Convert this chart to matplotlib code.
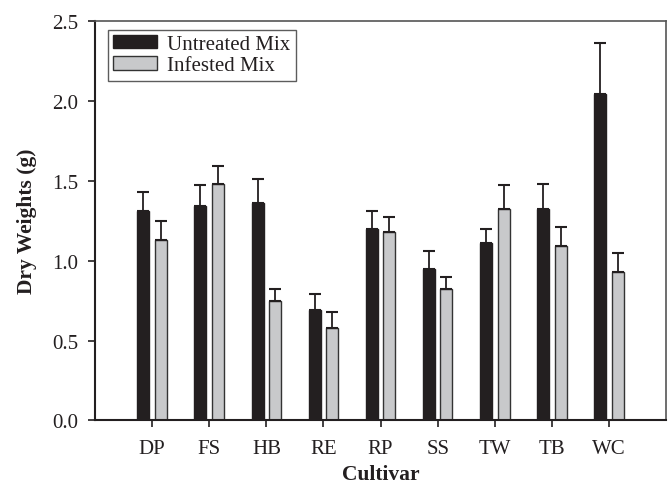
"""
Dry weights by cultivar, untreated vs infested mix, with SE bars.
"""

import matplotlib

matplotlib.use("Agg")
import matplotlib.pyplot as plt
import numpy as np

cultivars = ["DP", "FS", "HB", "RE", "RP", "SS", "TW", "TB", "WC"]
untreated = [1.31, 1.34, 1.36, 0.69, 1.20, 0.95, 1.11, 1.32, 2.04]
untreated_err = [0.12, 0.13, 0.15, 0.10, 0.11, 0.11, 0.09, 0.16, 0.32]
infested = [1.13, 1.48, 0.75, 0.58, 1.18, 0.82, 1.32, 1.09, 0.93]
infested_err = [0.12, 0.11, 0.075, 0.10, 0.09, 0.08, 0.15, 0.12, 0.12]

plt.rcParams["font.family"] = ["Liberation Serif", "DejaVu Serif"]

fig = plt.figure(figsize=(6.7, 4.85), dpi=100)
ax = fig.add_axes([0.142, 0.131, 0.852, 0.824])

x = np.arange(len(cultivars))
width = 0.21
offset = 0.155
dark = "#231f20"
grey = "#c8c9cb"

ax.bar(x - offset, untreated, width, color=dark, edgecolor=dark, linewidth=1.0,
       label="Untreated Mix", zorder=2)
ax.bar(x + offset, infested, width, color=grey, edgecolor="#333333", linewidth=1.0,
       label="Infested Mix", zorder=2)

err_style = dict(fmt="none", ecolor=dark, elinewidth=1.3, capsize=4.5, capthick=1.5, zorder=3)
ax.errorbar(x - offset, untreated, yerr=[np.zeros(len(x)), untreated_err], **err_style)
ax.errorbar(x + offset, infested, yerr=[np.zeros(len(x)), infested_err], **err_style)

ax.set_xlim(-1, len(cultivars))
ax.set_ylim(0, 2.5)
ax.set_yticks([0.0, 0.5, 1.0, 1.5, 2.0, 2.5])
ax.set_yticklabels([f"{v:.1f}" for v in ax.get_yticks()])
ax.set_xticks(x)
ax.set_xticklabels(cultivars)
ax.tick_params(axis="both", direction="out", length=5, width=1.2, labelsize=15, colors=dark)
ax.tick_params(axis="x", pad=8)
ax.tick_params(axis="y", pad=7)

for side in ["top", "right"]:
    ax.spines[side].set_color("#555555")
    ax.spines[side].set_linewidth(1.2)
for side in ["left", "bottom"]:
    ax.spines[side].set_color(dark)
    ax.spines[side].set_linewidth(1.5)

ax.set_xlabel("Cultivar", fontsize=15.5, fontweight="bold", color=dark, labelpad=4.5)
ax.set_ylabel("Dry Weights (g)", fontsize=15.5, fontweight="bold", color=dark, labelpad=11)

leg = ax.legend(loc="upper left", bbox_to_anchor=(0.022, 0.978), fontsize=15, frameon=True,
                fancybox=False, edgecolor="#333333", handlelength=2.1, handleheight=0.6,
                labelspacing=0.12, borderpad=0.25, handletextpad=0.5, borderaxespad=0)
leg.get_frame().set_linewidth(1.0)
for t in leg.get_texts():
    t.set_color(dark)

fig.savefig("out.png", dpi=100)
